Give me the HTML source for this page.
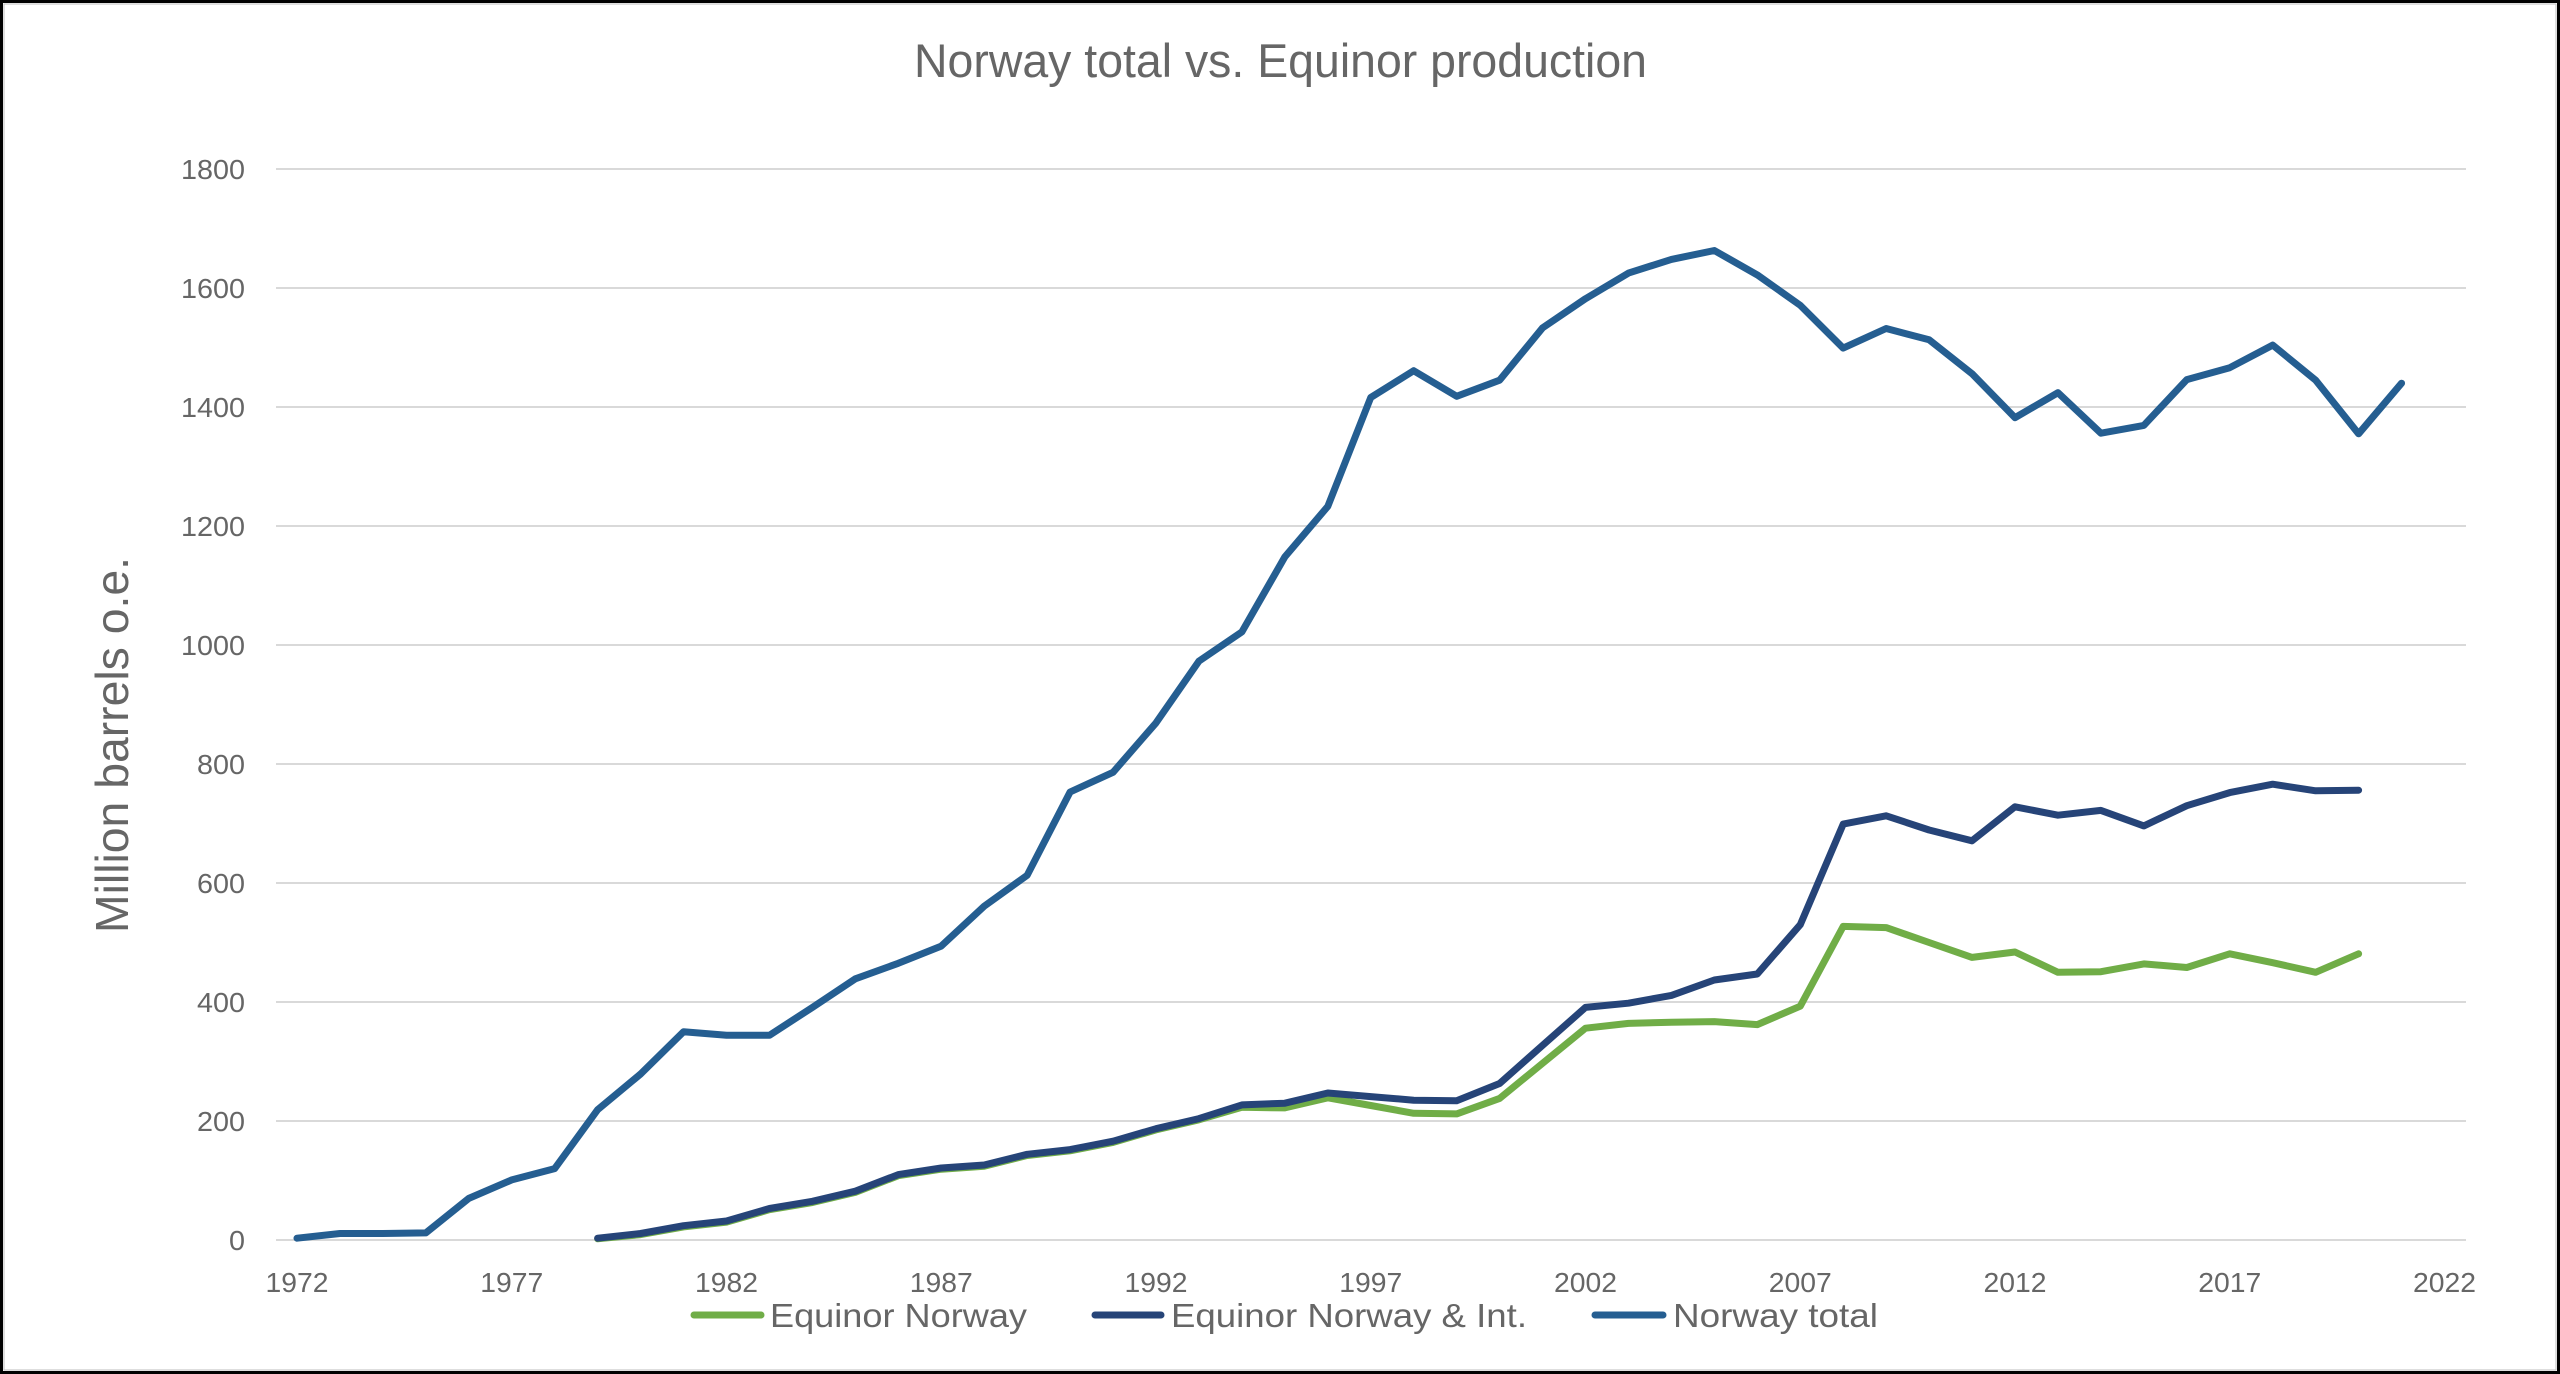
<!DOCTYPE html>
<html>
<head>
<meta charset="utf-8">
<style>
  html,body{margin:0;padding:0;background:#fff;}
  svg{display:block;}
  text{font-family:"Liberation Sans", sans-serif; fill:#666666;}
</style>
</head>
<body>
<svg width="2560" height="1374" viewBox="0 0 2560 1374" xmlns="http://www.w3.org/2000/svg">
  <rect x="0" y="0" width="2560" height="1374" fill="#fff"/>
  <rect x="1.5" y="1.5" width="2557" height="1371" fill="none" stroke="#000" stroke-width="3"/>
  <rect x="4" y="4" width="2552" height="1366" fill="none" stroke="#bdbdbd" stroke-width="1"/>

  <!-- Title -->
  <text x="914" y="77" font-size="47" textLength="733" lengthAdjust="spacingAndGlyphs">Norway total vs. Equinor production</text>

  <!-- Y axis title -->
  <text transform="translate(128,745) rotate(-90)" text-anchor="middle" font-size="46" textLength="376" lengthAdjust="spacingAndGlyphs">Million barrels o.e.</text>

  <!-- Gridlines -->
  <g stroke="#d9d9d9" stroke-width="2">
    <line x1="276" y1="1240" x2="2466" y2="1240"/>
    <line x1="276" y1="1121" x2="2466" y2="1121"/>
    <line x1="276" y1="1002" x2="2466" y2="1002"/>
    <line x1="276" y1="883" x2="2466" y2="883"/>
    <line x1="276" y1="764" x2="2466" y2="764"/>
    <line x1="276" y1="645" x2="2466" y2="645"/>
    <line x1="276" y1="526" x2="2466" y2="526"/>
    <line x1="276" y1="407" x2="2466" y2="407"/>
    <line x1="276" y1="288" x2="2466" y2="288"/>
    <line x1="276" y1="169" x2="2466" y2="169"/>
  </g>

  <!-- Y tick labels -->
  <g font-size="28" text-anchor="end">
    <text x="245" y="1250" textLength="16" lengthAdjust="spacingAndGlyphs">0</text>
    <text x="245" y="1131" textLength="48" lengthAdjust="spacingAndGlyphs">200</text>
    <text x="245" y="1012" textLength="48" lengthAdjust="spacingAndGlyphs">400</text>
    <text x="245" y="893" textLength="48" lengthAdjust="spacingAndGlyphs">600</text>
    <text x="245" y="774" textLength="48" lengthAdjust="spacingAndGlyphs">800</text>
    <text x="245" y="655" textLength="64" lengthAdjust="spacingAndGlyphs">1000</text>
    <text x="245" y="536" textLength="64" lengthAdjust="spacingAndGlyphs">1200</text>
    <text x="245" y="417" textLength="64" lengthAdjust="spacingAndGlyphs">1400</text>
    <text x="245" y="298" textLength="64" lengthAdjust="spacingAndGlyphs">1600</text>
    <text x="245" y="179" textLength="64" lengthAdjust="spacingAndGlyphs">1800</text>
  </g>

  <!-- X tick labels -->
  <g font-size="28" text-anchor="middle">
    <text x="297" y="1292" textLength="63" lengthAdjust="spacingAndGlyphs">1972</text>
    <text x="511.75" y="1292" textLength="63" lengthAdjust="spacingAndGlyphs">1977</text>
    <text x="726.5" y="1292" textLength="63" lengthAdjust="spacingAndGlyphs">1982</text>
    <text x="941.25" y="1292" textLength="63" lengthAdjust="spacingAndGlyphs">1987</text>
    <text x="1156" y="1292" textLength="63" lengthAdjust="spacingAndGlyphs">1992</text>
    <text x="1370.75" y="1292" textLength="63" lengthAdjust="spacingAndGlyphs">1997</text>
    <text x="1585.5" y="1292" textLength="63" lengthAdjust="spacingAndGlyphs">2002</text>
    <text x="1800.25" y="1292" textLength="63" lengthAdjust="spacingAndGlyphs">2007</text>
    <text x="2015" y="1292" textLength="63" lengthAdjust="spacingAndGlyphs">2012</text>
    <text x="2229.75" y="1292" textLength="63" lengthAdjust="spacingAndGlyphs">2017</text>
    <text x="2444.5" y="1292" textLength="63" lengthAdjust="spacingAndGlyphs">2022</text>
  </g>

  <!-- Series -->
  <g fill="none" stroke-width="7" stroke-linecap="round" stroke-linejoin="round">
    <!-- Equinor Norway (green) -->
    <polyline stroke="#70ad47" points="597.65,1238.8 640.6,1234.6 683.55,1226.9 726.5,1222.2 769.45,1209.7 812.4,1202.5 855.35,1192.4 898.3,1175.7 941.25,1169.2 984.2,1166.2 1027.15,1155.5 1070.1,1150.8 1113.05,1142.4 1156,1129.9 1198.95,1119.8 1241.9,1107.3 1284.85,1107.9 1327.8,1097.8 1370.75,1105.5 1413.7,1113.3 1456.65,1113.9 1499.6,1098.4 1542.55,1063.3 1585.5,1028.2 1628.45,1023.4 1671.4,1022.2 1714.35,1021.6 1757.3,1024.6 1800.25,1006.2 1843.2,926.4 1886.15,927.6 1929.1,942.5 1972.05,957.4 2015,952 2057.95,972.3 2100.9,971.7 2143.85,963.9 2186.8,967.5 2229.75,953.8 2272.7,962.7 2315.65,972.3 2358.6,953.8"/>
    <!-- Equinor Norway & Int. (navy) -->
    <polyline stroke="#264478" points="597.65,1238.2 640.6,1233.5 683.55,1225.7 726.5,1221 769.45,1208.5 812.4,1201.3 855.35,1191.2 898.3,1174.6 941.25,1168 984.2,1165 1027.15,1154.3 1070.1,1149.6 1113.05,1141.2 1156,1128.7 1198.95,1118.6 1241.9,1104.9 1284.85,1103.2 1327.8,1093 1370.75,1096.6 1413.7,1100.2 1456.65,1100.8 1499.6,1083.5 1542.55,1045.4 1585.5,1007.4 1628.45,1003.2 1671.4,995.4 1714.35,980 1757.3,974 1800.25,924.7 1843.2,824.1 1886.15,815.8 1929.1,830 1972.05,840.8 2015,806.8 2057.95,815.2 2100.9,810.4 2143.85,825.9 2186.8,805.7 2229.75,792.6 2272.7,784.2 2315.65,790.8 2358.6,790.2"/>
    <!-- Norway total (blue) -->
    <polyline stroke="#255e91" points="297,1238.2 339.95,1233.5 382.9,1233.5 425.85,1232.9 468.8,1198.4 511.75,1179.9 554.7,1168.6 597.65,1109.7 640.6,1074 683.55,1031.8 726.5,1035.3 769.45,1035.3 812.4,1007.4 855.35,978.8 898.3,963.3 941.25,946.1 984.2,906.2 1027.15,875.3 1070.1,792 1113.05,772.3 1156,722.9 1198.95,661.1 1241.9,631.9 1284.85,556.9 1327.8,506.4 1370.75,397.5 1413.7,370.7 1456.65,396.3 1499.6,380.2 1542.55,327.9 1585.5,298.7 1628.45,273.1 1671.4,259.4 1714.35,250.5 1757.3,274.9 1800.25,305.3 1843.2,348.1 1886.15,328.5 1929.1,339.8 1972.05,373.7 2015,417.7 2057.95,392.7 2100.9,433.2 2143.85,425.4 2186.8,379.6 2229.75,367.7 2272.7,345.1 2315.65,380.2 2358.6,433.8 2401.55,383.2"/>
  </g>

  <!-- Legend -->
  <g stroke-width="7" stroke-linecap="round">
    <line x1="694" y1="1315" x2="761" y2="1315" stroke="#70ad47"/>
    <line x1="1095" y1="1315" x2="1161" y2="1315" stroke="#264478"/>
    <line x1="1595" y1="1315" x2="1663" y2="1315" stroke="#255e91"/>
  </g>
  <g font-size="33.5">
    <text x="770" y="1327" textLength="257" lengthAdjust="spacingAndGlyphs">Equinor Norway</text>
    <text x="1171" y="1327" textLength="356" lengthAdjust="spacingAndGlyphs">Equinor Norway &amp; Int.</text>
    <text x="1673" y="1327" textLength="205" lengthAdjust="spacingAndGlyphs">Norway total</text>
  </g>
</svg>
</body>
</html>
